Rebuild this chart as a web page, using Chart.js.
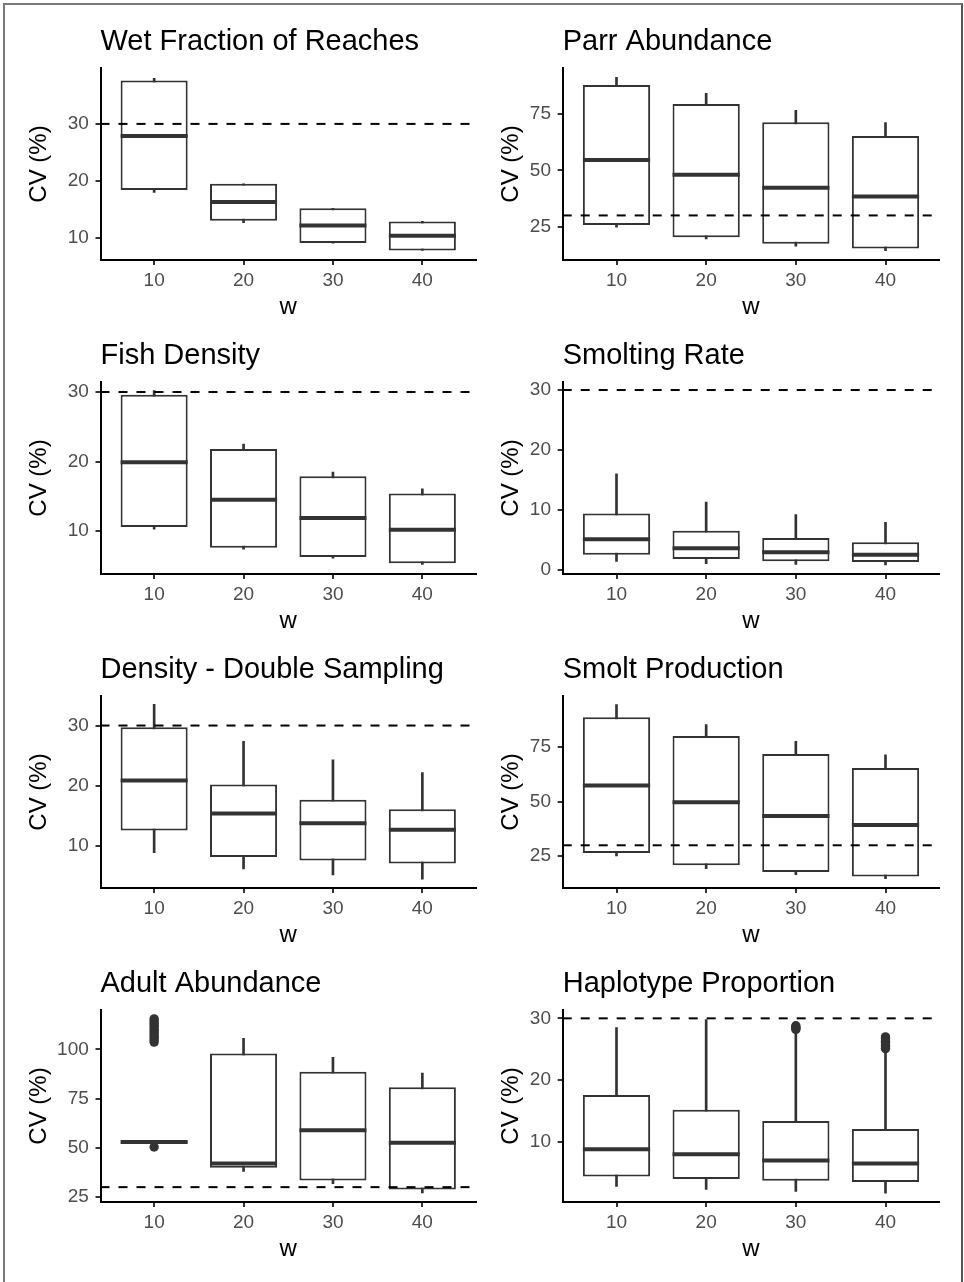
<!DOCTYPE html>
<html>
<head>
<meta charset="utf-8">
<title>CV (%) by w</title>
<script src="https://cdn.jsdelivr.net/npm/chart.js@4.4.1/dist/chart.umd.min.js"></script>
<style>
  body { margin: 0; background: #fff; width: 964px; height: 1282px; overflow: hidden; position: relative; }
  #frame { position: absolute; left: 3px; top: 3px; width: 956px; height: 1300px;
           border-left: 2px solid #7a7a7a; border-top: 2px solid #7a7a7a; border-right: 2px solid #555; }
  .panel { position: absolute; }
  .panel canvas { display: block; }
</style>
</head>
<body>
<div id="frame"></div>
<script>
/* Boxplots of CV (%) against w, one panel per estimate.
   Each box row is [lower whisker, Q1, median, Q3, upper whisker] for w = 10, 20, 30, 40. */

const wLabels = ["10", "20", "30", "40"];
const thresholdCV = 30;

const wetFractionBoxes = [
  [18.0, 18.4, 27.9, 37.6, 38.0],
  [12.7, 13.0, 16.3, 19.5, 19.5],
  [9.1, 9.1, 12.2, 15.2, 15.2],
  [7.8, 7.8, 10.4, 12.9, 12.9]
];
const parrAbundanceBoxes = [
  [24.8, 25.7, 54.6, 87.9, 91.3],
  [19.6, 20.3, 48.1, 79.5, 84.3],
  [16.3, 17.4, 42.3, 71.4, 76.7],
  [14.4, 15.3, 38.4, 65.3, 71.2]
];
const fishDensityBoxes = [
  [10.3, 10.6, 19.9, 29.6, 30.2],
  [7.4, 7.6, 14.5, 21.8, 22.5],
  [6.1, 6.3, 11.9, 17.9, 18.5],
  [5.2, 5.4, 10.2, 15.4, 16.1]
];
const smoltingRateBoxes = [
  [1.4, 2.5, 5.1, 9.4, 16.0],
  [1.0, 1.8, 3.6, 6.5, 11.3],
  [0.9, 1.4, 2.9, 5.3, 9.2],
  [0.8, 1.3, 2.5, 4.6, 7.9]
];
const doubleSamplingBoxes = [
  [8.9, 12.6, 20.9, 29.7, 33.5],
  [6.2, 8.2, 15.4, 20.2, 27.4],
  [5.2, 7.6, 13.8, 17.7, 24.3],
  [4.5, 7.1, 12.7, 16.1, 22.2]
];
const smoltProductionBoxes = [
  [25.1, 26.5, 57.4, 88.7, 94.6],
  [19.3, 20.8, 49.7, 80.2, 85.4],
  [16.5, 17.7, 43.4, 71.9, 77.7],
  [14.7, 15.7, 39.3, 65.5, 71.5]
];
const adultAbundanceBoxes = [
  [52.6, 52.6, 52.9, 53.3, 53.3],
  [38.0, 39.8, 42.0, 97.9, 105.6],
  [31.7, 33.4, 58.9, 88.6, 95.9],
  [27.1, 28.8, 52.6, 80.8, 88.0]
];
const haplotypeBoxes = [
  [2.8, 4.4, 8.8, 17.6, 28.5],
  [2.3, 4.0, 8.0, 15.2, 29.8],
  [2.0, 3.7, 7.0, 13.4, 28.0],
  [1.7, 3.5, 6.5, 12.1, 24.9]
];

// outlying points per w
const adultAbundanceOutliers = [
  [50.4, 103.7, 104.9, 106.1, 107.3, 108.5, 109.7, 110.9, 112.1, 113.3, 114.4, 115.5],
  [], [], []
];
const haplotypeOutliers = [
  [], [],
  [28.2, 28.4, 28.6, 28.8],
  [25.1, 25.4, 25.7, 26.0, 26.3, 26.7, 27.0]
];

// y tick labels and y axis limits
const wetFractionTicks = [10, 20, 30];         const wetFractionRange = [6.14, 39.8];
const parrAbundanceTicks = [25, 50, 75];       const parrAbundanceRange = [10.2, 95.5];
const fishDensityTicks = [10, 20, 30];         const fishDensityRange = [3.84, 31.44];
const smoltingRateTicks = [0, 10, 20, 30];     const smoltingRateRange = [-0.72, 31.34];
const doubleSamplingTicks = [10, 20, 30];      const doubleSamplingRange = [3.05, 34.9];
const smoltProductionTicks = [25, 50, 75];     const smoltProductionRange = [10.4, 98.5];
const adultAbundanceTicks = [25, 50, 75, 100]; const adultAbundanceRange = [22.45, 120.0];
const haplotypeTicks = [10, 20, 30];           const haplotypeRange = [0.28, 31.35];

const panels = [
  { title: "Wet Fraction of Reaches", boxes: wetFractionBoxes, outliers: null, ticks: wetFractionTicks, range: wetFractionRange },
  { title: "Parr Abundance", boxes: parrAbundanceBoxes, outliers: null, ticks: parrAbundanceTicks, range: parrAbundanceRange },
  { title: "Fish Density", boxes: fishDensityBoxes, outliers: null, ticks: fishDensityTicks, range: fishDensityRange },
  { title: "Smolting Rate", boxes: smoltingRateBoxes, outliers: null, ticks: smoltingRateTicks, range: smoltingRateRange },
  { title: "Density - Double Sampling", boxes: doubleSamplingBoxes, outliers: null, ticks: doubleSamplingTicks, range: doubleSamplingRange },
  { title: "Smolt Production", boxes: smoltProductionBoxes, outliers: null, ticks: smoltProductionTicks, range: smoltProductionRange },
  { title: "Adult Abundance", boxes: adultAbundanceBoxes, outliers: adultAbundanceOutliers, ticks: adultAbundanceTicks, range: adultAbundanceRange },
  { title: "Haplotype Proportion", boxes: haplotypeBoxes, outliers: haplotypeOutliers, ticks: haplotypeTicks, range: haplotypeRange }
];

const BOX_WIDTH = 0.75;          // in w-category units, like ggplot's default
const X_MIN = 0.4, X_MAX = 4.6;  // discrete axis expansion
const INK = "#333333";

Chart.defaults.font.family = "'Liberation Sans', Arial, Helvetica, sans-serif";

function halfBoxPx(ctx) {
  const xs = ctx.chart.scales.x;
  return Math.abs(xs.getPixelForValue(1 + BOX_WIDTH / 2) - xs.getPixelForValue(1));
}

function renderPanel(p, i) {
  const col = i % 2, row = Math.floor(i / 2);
  const wrap = document.createElement("div");
  wrap.className = "panel";
  wrap.style.left = (col * 480) + "px";
  wrap.style.top = (row * 314) + "px";
  const canvas = document.createElement("canvas");
  canvas.width = col ? 484 : 481;
  canvas.height = 324;
  wrap.appendChild(canvas);
  document.body.appendChild(wrap);

  const xPos = wLabels.map((_, k) => k + 1);
  const outlierPts = [];
  (p.outliers || []).forEach((vals, k) => vals.forEach(v => outlierPts.push({ x: xPos[k], y: v })));

  new Chart(canvas, {
    type: "bar",
    data: {
      datasets: [
        { // 30 % reference line
          type: "line",
          data: [{ x: X_MIN, y: thresholdCV }, { x: X_MAX, y: thresholdCV }],
          borderColor: "#000", borderWidth: 2, borderDash: [9, 9],
          pointRadius: 0, order: 0
        },
        { // outliers
          type: "scatter",
          data: outlierPts,
          pointRadius: 4.7, pointBackgroundColor: INK, pointBorderWidth: 0,
          order: 1
        },
        { // medians
          type: "scatter",
          data: p.boxes.map((b, k) => ({ x: xPos[k], y: b[2] })),
          pointStyle: "line", pointRadius: halfBoxPx,
          pointBorderColor: INK, pointBorderWidth: 4,
          order: 2
        },
        { // boxes Q1..Q3
          type: "bar",
          data: p.boxes.map((b, k) => ({ x: xPos[k], y: [b[1], b[3]] })),
          backgroundColor: "#fff", borderColor: INK, borderWidth: 2, borderSkipped: false,
          grouped: false, categoryPercentage: BOX_WIDTH, barPercentage: 1,
          order: 3
        },
        { // whiskers
          type: "bar",
          data: p.boxes.map((b, k) => ({ x: xPos[k], y: [b[0], b[4]] })),
          backgroundColor: INK, borderWidth: 0, barThickness: 2,
          grouped: false, order: 4
        }
      ]
    },
    options: {
      responsive: false,
      animation: false,
      events: [],
      layout: { padding: { left: 0, top: 0, bottom: 0, right: col ? 24.7 : 5 } },
      plugins: {
        legend: { display: false },
        tooltip: { enabled: false },
        title: {
          display: true, text: p.title, align: "start", fullSize: false,
          color: "#000", font: { size: 29, weight: "normal" },
          padding: { top: 25, bottom: 8.2 }
        }
      },
      scales: {
        x: {
          type: "linear", min: X_MIN, max: X_MAX, offset: false,
          afterBuildTicks: (s) => { s.ticks = xPos.map(v => ({ value: v })); },
          afterFit: (s) => { s.height = 64; },
          grid: { offset: false, drawOnChartArea: false, tickLength: 5, color: INK, lineWidth: 2 },
          border: { color: "#000", width: 2 },
          ticks: { color: "#4D4D4D", font: { size: 19 }, padding: 4, autoSkip: false, maxRotation: 0,
                   callback: (v, k) => wLabels[k] },
          title: { display: true, text: "w", color: "#000", font: { size: 24 }, padding: { top: 0, bottom: 2.5 } }
        },
        y: {
          type: "linear", min: p.range[0], max: p.range[1],
          afterBuildTicks: (s) => { s.ticks = p.ticks.map(v => ({ value: v })); },
          afterFit: (s) => { s.width = col ? 82.7 : 100.5; },
          grid: { drawOnChartArea: false, tickLength: 5, color: INK, lineWidth: 2 },
          border: { color: "#000", width: 2 },
          ticks: { color: "#4D4D4D", font: { size: 19 }, padding: 6.7 },
          title: { display: true, text: "CV (%)", color: "#000", font: { size: 24 },
                   padding: { top: col ? 17.3 : 24.9, bottom: 0 } }
        }
      }
    }
  });
}

document.addEventListener("DOMContentLoaded", () => {
  panels.forEach(renderPanel);
});
</script>
</body>
</html>
